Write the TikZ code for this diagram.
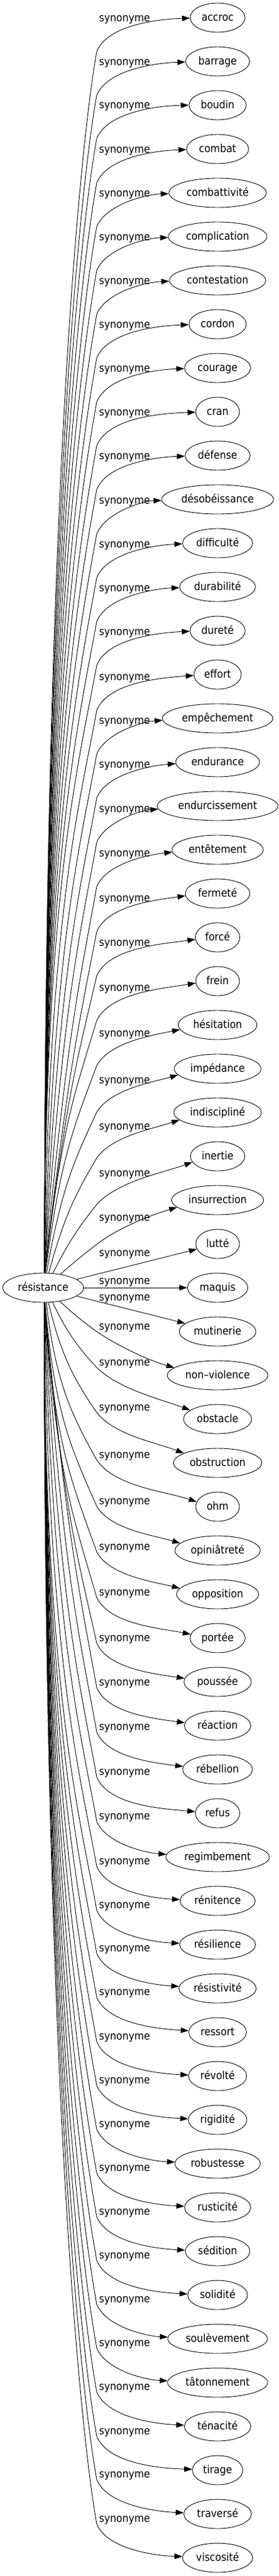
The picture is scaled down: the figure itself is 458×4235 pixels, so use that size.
\documentclass[tikz,border=0pt]{standalone}
\usepackage{fontspec}
\setmainfont{DejaVu Sans Condensed}
\usetikzlibrary{arrows.meta,shapes.geometric}
\begin{document}
\begin{tikzpicture}[x=1pt,y=-1pt,
  word/.style={ellipse,draw,line width=0.9pt,inner xsep=5.5pt,inner ysep=0pt,
    minimum width=72pt,minimum height=48pt,text height=10pt,text depth=0pt,
    font=\fontsize{18}{20}\selectfont},
  lab/.style={anchor=base,inner sep=0pt,font=\fontsize{18}{20}\selectfont},
  edgeline/.style={line width=0.9pt,-{Triangle[length=13pt,width=9pt]}}]
\useasboundingbox (0,0) rectangle (458,4235);
\node[word] (res) at (71,2117) {résistance};
\foreach \i/\w/\ly in {0/accroc/30,1/barrage/102,2/boudin/173,3/combat/246,
 4/combattivité/318,5/complication/390,6/contestation/462,7/cordon/534,
 8/courage/606,9/cran/678,10/défense/750,11/désobéissance/823,12/difficulté/895,
 13/durabilité/967,14/dureté/1039,15/effort/1113,16/empêchement/1185,
 17/endurance/1257,18/endurcissement/1330,19/entêtement/1403,20/fermeté/1477,
 21/forcé/1550,22/frein/1624,23/hésitation/1699,24/impédance/1776,
 25/indiscipliné/1852,26/inertie/1929,27/insurrection/1995,28/lutté/2060,
 29/maquis/2106,30/mutinerie/2133,31/non–violence/2181,32/obstacle/2240,
 33/obstruction/2314,34/ohm/2392,35/opiniâtreté/2468,36/opposition/2543,
 37/portée/2618,38/poussée/2693,39/réaction/2766,40/rébellion/2839,
 41/refus/2913,42/regimbement/2986,43/rénitence/3060,44/résilience/3132,
 45/résistivité/3203,46/ressort/3275,47/révolté/3348,48/rigidité/3420,
 49/robustesse/3492,50/rusticité/3564,51/sédition/3636,52/solidité/3708,
 53/soulèvement/3780,54/tâtonnement/3852,55/ténacité/3924,56/tirage/3997,
 57/traversé/4068,58/viscosité/4141}{
  \pgfmathsetmacro\yn{29+72*\i}
  \node[word] (n\i) at (358,\yn) {\w};
  \ifnum\i=27
    \node[lab] (l\i) at (205,2002+5) {synonyme};
  \else
    \node[lab] (l\i) at (205,\ly+5) {synonyme};
  \fi
  \ifnum\i=28 \draw[edgeline] (res) -- (n\i);
  \else\ifnum\i=29 \draw[edgeline] (res) -- (n\i);
  \else\ifnum\i=30 \draw[edgeline] (res) -- (n\i);
  \else
    \ifnum\i<28 \def\eS{-1}\def\eOffA{50}\def\eOffB{5}\def\eK{28-\i}\else\def\eS{1}\def\eOffA{8}\def\eOffB{0}\def\eK{\i-30}\fi
    \pgfmathsetmacro\eXs{73+50*exp(-(\eK)/1.5)}
    \pgfmathsetmacro\eYs{2117+(\eS)*24*sqrt(1-((\eXs-71)/66)^2)}
    \pgfmathtruncatemacro\eAng{mod(360+atan2(2117-\eYs,\eXs-71),360)}
    \pgfpointanchor{res}{\eAng}\pgfgetlastxy{\eSxd}{\eSyd}
    \pgfmathsetmacro\eSx{\eSxd}
    \pgfmathsetmacro\eSy{-1*(\eSyd)}
    \pgfmathsetmacro\eDo{(\eS)*(\ly-\eSy)}
    \pgfmathsetmacro\eF{max(0,min(1,\eDo/600))}
    \pgfmathsetmacro\eEy{\ly+\eOffA+\eOffB*\eF}
    \pgfmathsetmacro\eD{(\eS)*(\eEy-\eSy)}
    \pgfmathsetmacro\eBet{max(0,(\eS)*(\yn-\eEy)-54)*0.55}
    \pgfmathtruncatemacro\eAlp{180-(\eS)*\eBet}
    \pgfpointanchor{n\i}{\eAlp}\pgfgetlastxy{\eAxd}{\eAyd}
    \pgfmathsetmacro\eAx{\eAxd}
    \pgfmathsetmacro\eAy{-1*(\eAyd)}
    \pgfmathsetmacro\eChSE{atan2(\eD,159-\eSx)}
    \pgfmathsetmacro\eLSE{100*veclen((159-\eSx)/100,\eD/100)}
    \pgfmathsetmacro\eChEA{atan2((\eS)*(\eAy-\eEy),\eAx-159)}
    \pgfmathsetmacro\eLEA{veclen(\eAx-159,\eAy-\eEy)}
    \pgfmathsetmacro\eTh{max(\eF*70+(1-\eF)*(\eChSE+\eChEA)/2,\eChEA+5)}
    \pgfmathsetmacro\eThL{min(\eTh+10*\eF,\eChSE-2)}
    \pgfmathsetmacro\eThR{\eTh-2*\eF}
    \pgfmathsetmacro\eGa{max(0,min(1.6*\eBet,\eChEA-4))}
    \pgfmathsetmacro\ePh{min(90,2*\eChSE-\eThL)}
    \pgfmathsetmacro\eA{(0.4+0.24*\eF)*\eLSE}
    \pgfmathsetmacro\eB{min(0.3*\eLSE,76+74*\eF)}
    \pgfmathsetmacro\eKk{0.3*\eLEA}
    \pgfmathsetmacro\cax{\eSx+\eA*cos(\ePh)}
    \pgfmathsetmacro\cay{\eSy+(\eS)*\eA*sin(\ePh)}
    \pgfmathsetmacro\cbx{159-\eB*cos(\eThL)}
    \pgfmathsetmacro\cby{\eEy-(\eS)*\eB*sin(\eThL)}
    \pgfmathsetmacro\ccx{159+\eKk*cos(\eThR)}
    \pgfmathsetmacro\ccy{\eEy+(\eS)*\eKk*sin(\eThR)}
    \pgfmathsetmacro\cdx{\eAx-\eKk*cos(\eGa)}
    \pgfmathsetmacro\cdy{\eAy-(\eS)*\eKk*sin(\eGa)}
    \draw[edgeline] (res.\eAng) .. controls (\cax,\cay) and (\cbx,\cby) .. (159,\eEy)
      .. controls (\ccx,\ccy) and (\cdx,\cdy) .. (n\i.\eAlp);
  \fi\fi\fi
}
\end{tikzpicture}
\end{document}
